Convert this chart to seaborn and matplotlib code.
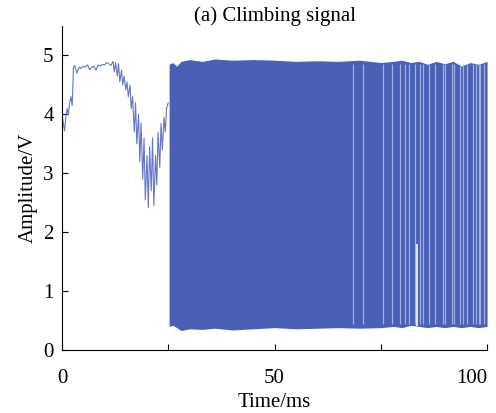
import matplotlib
matplotlib.use("Agg")
import matplotlib.pyplot as plt
import seaborn as sns
import pandas as pd

# Early (pre-climb) part of the signal
early_t = [0, 0.3, 0.6, 0.9, 1.2, 1.5, 1.8, 2.1, 2.4, 2.7, 3.0, 3.5, 4, 4.5, 5, 5.5, 6, 6.5,
           7, 7.5, 8, 8.5, 9, 9.5, 10, 10.5, 11, 11.5, 12, 12.3, 12.6, 13, 13.3, 13.6, 14,
           14.3, 14.6, 15, 15.3, 15.6, 16, 16.3, 16.6, 17, 17.3, 17.6, 18, 18.3, 18.6, 19,
           19.3, 19.6, 20, 20.3, 20.6, 21, 21.3, 21.6, 22, 22.3, 22.6, 23, 23.3, 23.6, 24,
           24.3, 24.6, 25]
early_v = [4.0, 3.85, 3.72, 3.95, 4.1, 4.0, 4.2, 4.3, 4.15, 4.8, 4.83, 4.7, 4.8, 4.78, 4.82,
           4.8, 4.84, 4.76, 4.8, 4.82, 4.75, 4.84, 4.82, 4.85, 4.84, 4.88, 4.86, 4.83, 4.9,
           4.72, 4.88, 4.65, 4.86, 4.55, 4.75, 4.5, 4.65, 4.42, 4.55, 4.3, 4.5, 4.1, 4.3,
           3.7, 4.2, 3.5, 4.0, 3.2, 3.85, 2.9, 3.6, 2.55, 3.3, 2.42, 3.45, 2.7, 3.6, 2.45,
           3.3, 2.8, 3.7, 3.1, 3.85, 3.4, 3.95, 3.7, 4.1, 4.2]

# Envelope of the dense climbing oscillation
burst_t = [25.2, 26, 27, 28, 30, 33, 36, 40, 45, 50, 55, 60, 65, 70, 75, 78, 80, 82, 84,
           86, 88, 90, 92, 94, 96, 98, 100]
burst_hi = [4.85, 4.88, 4.82, 4.9, 4.93, 4.9, 4.94, 4.92, 4.93, 4.92, 4.9, 4.91, 4.9, 4.92,
            4.88, 4.9, 4.92, 4.88, 4.9, 4.85, 4.9, 4.86, 4.9, 4.82, 4.88, 4.85, 4.9]
burst_lo = [0.4, 0.42, 0.38, 0.33, 0.36, 0.35, 0.37, 0.34, 0.36, 0.38, 0.36, 0.37, 0.38,
            0.37, 0.38, 0.4, 0.38, 0.42, 0.4, 0.38, 0.4, 0.38, 0.4, 0.38, 0.4, 0.38, 0.4]

# Lighter stripes where individual pulses separate near the end
stripe_t = [68.5, 70.8, 75.5, 77.6, 79.5, 80.7, 81.6, 83.0, 84.2, 85.0, 86.4, 87.8, 89.6,
            90.1, 91.8, 92.2, 93.6, 94.4, 95.3, 96.7, 97.3, 98.1, 98.4, 99.3]
gap_t = [83.4]
gap_top = [1.8]

sns.set_style("ticks")
plt.rcParams["font.family"] = ["Liberation Serif", "DejaVu Serif"]
plt.rcParams.update({"text.color": "black", "axes.labelcolor": "black",
                     "xtick.color": "black", "ytick.color": "black",
                     "axes.edgecolor": "black"})

fig = plt.figure(figsize=(4.96, 4.13), dpi=100)
ax = fig.add_axes([0.125, 0.1525, 0.857, 0.7845])

blue = "#4a5fb6"
ax.fill_between(burst_t, burst_lo, burst_hi, color=blue, lw=0)
ax.vlines(stripe_t, 0.45, 4.85, color="#a3afe2", lw=0.9)
ax.vlines(gap_t, 0.4, gap_top, color="white", lw=1.2)

early = pd.DataFrame({"t": early_t, "v": early_v})
sns.lineplot(data=early, x="t", y="v", ax=ax, color="#6676c8", lw=0.8)

ax.set_xlim(0, 100)
ax.set_ylim(0, 5.5)
ax.set_xticks([0, 25, 50, 75, 100])
ax.set_xticklabels(["0", "", "50", "", "100"])
ax.get_xticklabels()[-1].set_horizontalalignment("right")
ax.set_yticks([0, 1, 2, 3, 4, 5])
ax.tick_params(direction="in", length=4, width=0.8, labelsize=15)
ax.tick_params(axis="x", pad=14)
ax.tick_params(axis="y", pad=6)
sns.despine(ax=ax)
ax.set_xlabel("Time/ms", fontsize=15, labelpad=3)
ax.set_ylabel("Amplitude/V", fontsize=15, labelpad=4)
ax.set_title("(a) Climbing signal", fontsize=15, pad=2)

fig.savefig("out.png", dpi=100)
